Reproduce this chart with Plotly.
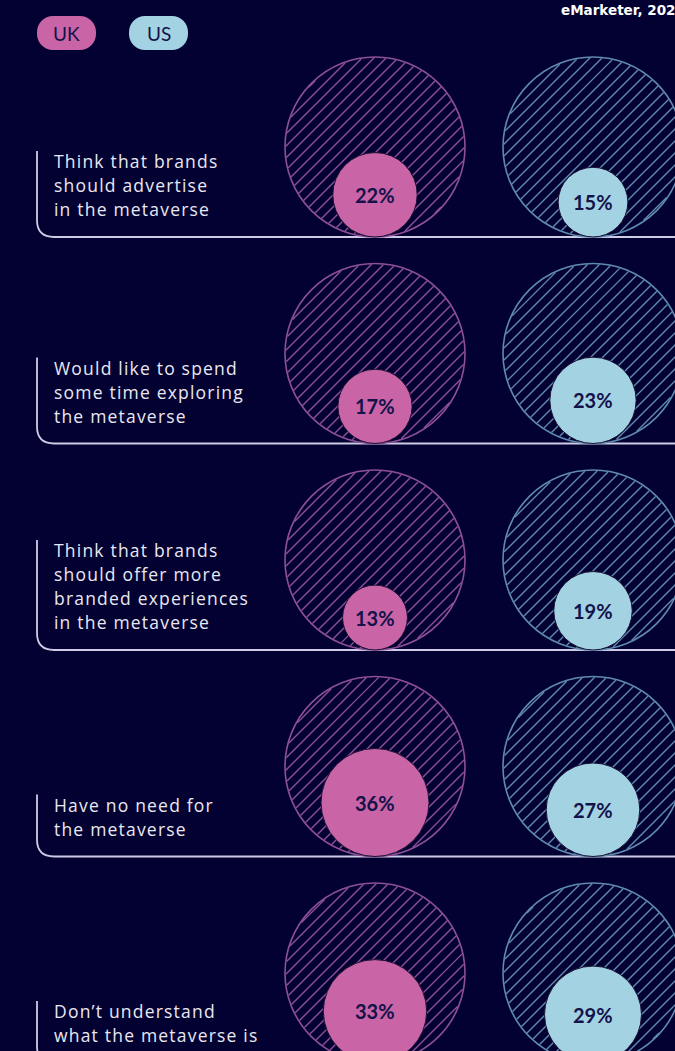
import math
import plotly.graph_objects as go

# ---- data ----
categories = [
    "Think that brands\nshould advertise\nin the metaverse",
    "Would like to spend\nsome time exploring\nthe metaverse",
    "Think that brands\nshould offer more\nbranded experiences\nin the metaverse",
    "Have no need for\nthe metaverse",
    "Don\u2019t understand\nwhat the metaverse is",
]
uk_values = [22, 17, 13, 36, 33]
us_values = [15, 23, 19, 27, 29]
series_names = ["UK", "US"]
source_text = "eMarketer, 2022"

# ---- styling ----
W, H = 675, 1051
BG = "#030131"
UK_FILL, US_FILL = "#c964a6", "#a3d3e3"
UK_LINE, US_LINE = "#8d4f98", "#5f8ab0"
RULE = "#cfcbe6"
LABEL = "#e9e8f2"
DARK = "#13124a"
FONT = "Lato"
LABEL_FONT = "Open Sans"

R = 90                       # radius of the 100% circle
COL_X = [375, 593]           # circle centres (UK, US)
FIRST_BASE, ROW_STEP = 237, 206.5
HATCH_STEP = 12

fig = go.Figure()
shapes, annotations = [], []


def circle_hatch(cx, cy, r, step):
    xs, ys = [], []
    lo = math.floor((cx + cy - r * math.sqrt(2)) / step)
    hi = math.ceil((cx + cy + r * math.sqrt(2)) / step)
    for k in range(lo, hi + 1):
        d = k * step - cx - cy
        rem = r * r - d * d / 2
        if rem <= 0:
            continue
        h = math.sqrt(rem) / math.sqrt(2)
        xs += [cx + d / 2 + h, cx + d / 2 - h, None]
        ys += [cy + d / 2 - h, cy + d / 2 + h, None]
    return xs, ys


def pill_path(x0, y0, x1, y1, r):
    k = 0.5523 * r
    return (f"M{x0+r},{y0} L{x1-r},{y0} C{x1-r+k},{y0} {x1},{y0+r-k} {x1},{y0+r} "
            f"L{x1},{y1-r} C{x1},{y1-r+k} {x1-r+k},{y1} {x1-r},{y1} "
            f"L{x0+r},{y1} C{x0+r-k},{y1} {x0},{y1-r+k} {x0},{y1-r} "
            f"L{x0},{y0+r} C{x0},{y0+r-k} {x0+r-k},{y0} {x0+r},{y0} Z")


for i, (cat, uk, us) in enumerate(zip(categories, uk_values, us_values)):
    base = FIRST_BASE + i * ROW_STEP
    cy = base - R

    # label lines, bottom aligned above the rule
    lines = cat.split("\n")
    n = len(lines)
    for j, line in enumerate(lines):
        yc = base - 28 - (n - 1 - j) * 24
        annotations.append(dict(x=52, y=yc,
                                text=f'<span style="letter-spacing:1.2px">{line}</span>',
                                showarrow=False, xanchor="left", yanchor="middle",
                                font=dict(family=LABEL_FONT, size=17.5, color=LABEL)))
    top = base - 28 - (n - 1) * 24 - 10
    rc = 17
    shapes.append(dict(type="path", layer="below",
                       path=f"M37,{top} L37,{base-rc} Q37,{base} {37+rc},{base} L{W+5},{base}",
                       line=dict(color=RULE, width=1.8)))

    for val, cx, fill, edge in ((uk, COL_X[0], UK_FILL, UK_LINE),
                                (us, COL_X[1], US_FILL, US_LINE)):
        hx, hy = circle_hatch(cx, cy, R - 0.8, HATCH_STEP)
        fig.add_trace(go.Scatter(x=hx, y=hy, mode="lines", hoverinfo="skip",
                                 line=dict(color=edge, width=1.4), showlegend=False))
        shapes.append(dict(type="circle", layer="above", x0=cx - R, x1=cx + R,
                           y0=cy - R, y1=cy + R, line=dict(color=edge, width=1.6)))
        r = R * math.sqrt(val / 100)
        shapes.append(dict(type="circle", layer="above", x0=cx - r, x1=cx + r,
                           y0=base - 2 * r, y1=base, fillcolor=fill,
                           line=dict(color="#1a1034", width=1)))
        annotations.append(dict(x=cx, y=base - r, text=f"<b>{val}%</b>", showarrow=False,
                                xanchor="center", yanchor="middle",
                                font=dict(family=FONT, size=20, color=DARK)))

# legend pills
for name, x0, fill in ((series_names[0], 37, UK_FILL), (series_names[1], 129, US_FILL)):
    shapes.append(dict(type="path", layer="above", path=pill_path(x0, 16, x0 + 59, 50, 16),
                       fillcolor=fill, line=dict(width=0)))
    annotations.append(dict(x=x0 + 29.5, y=33, text=name, showarrow=False,
                            xanchor="center", yanchor="middle",
                            font=dict(family=FONT, size=19, color=DARK)))

# source note, running off the right edge of the plot area
fig.add_trace(go.Scatter(x=[561], y=[12], mode="text", text=[f"<b>{source_text}</b>"],
                         textposition="middle right", cliponaxis=True, hoverinfo="skip",
                         textfont=dict(family="DejaVu Sans", size=13.5, color="#ffffff"),
                         showlegend=False))

fig.update_layout(
    width=W, height=H, margin=dict(l=0, r=0, t=0, b=0),
    paper_bgcolor=BG, plot_bgcolor=BG,
    xaxis=dict(range=[0, W], visible=False, fixedrange=True),
    yaxis=dict(range=[H, 0], visible=False, fixedrange=True),
    shapes=shapes, annotations=annotations, showlegend=False,
)
fig.write_html("out.html", config={"displayModeBar": False})
